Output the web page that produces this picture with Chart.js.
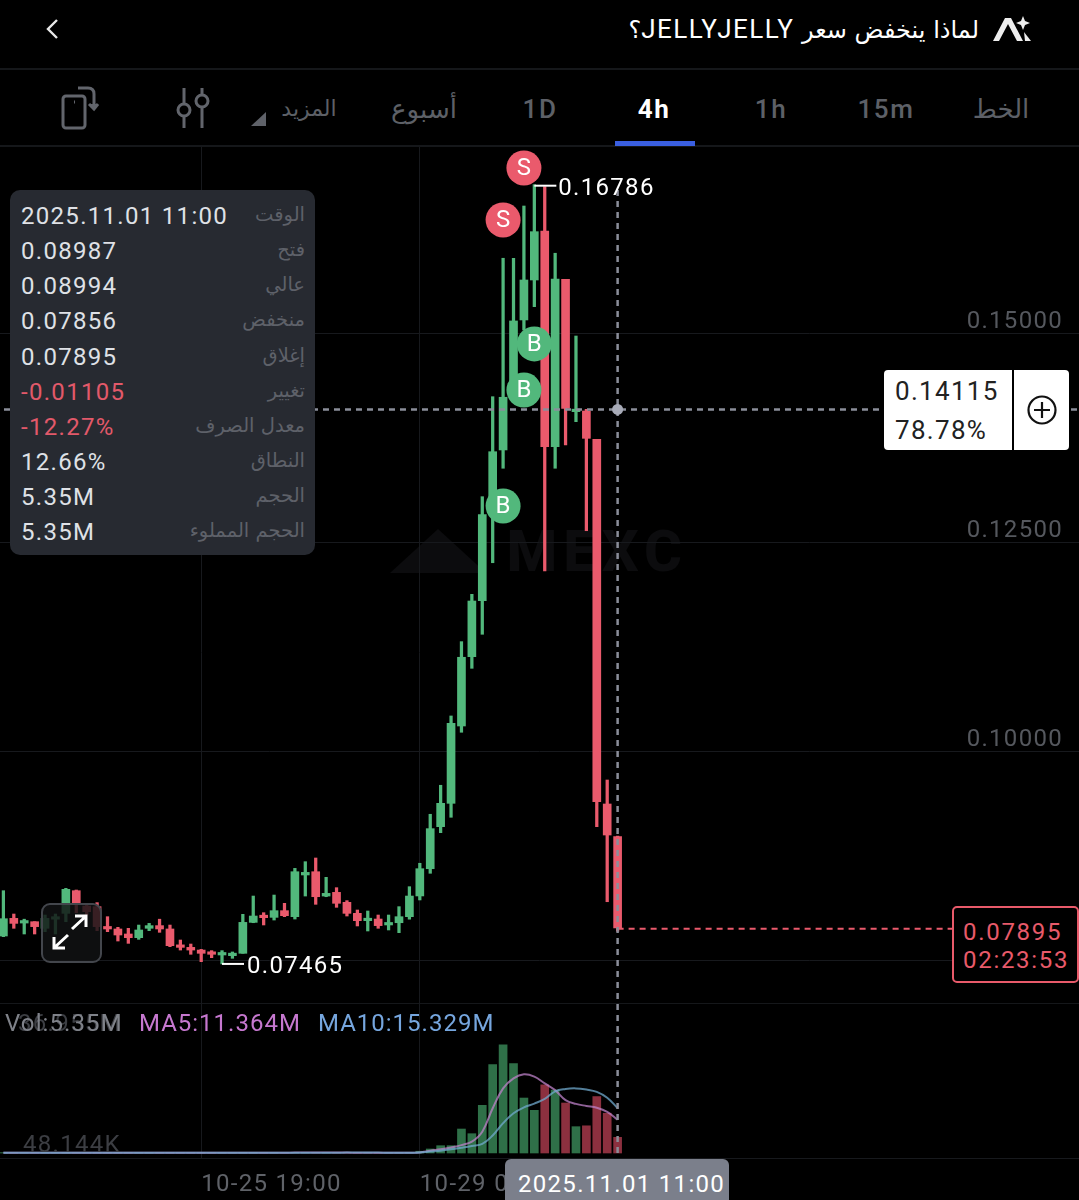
<!DOCTYPE html>
<html><head><meta charset="utf-8">
<style>
html,body{margin:0;padding:0;background:#000;width:1079px;height:1200px;overflow:hidden;font-family:Roboto,"DejaVu Sans",sans-serif;color:#fff;letter-spacing:1.3px}
.a{position:absolute;white-space:nowrap;line-height:1}
#c{position:absolute;left:0;top:0;z-index:2}
.tab{font-size:26px;color:#5d6067;transform:translateX(-50%);top:96px;font-weight:500;letter-spacing:1.6px}
.row{left:21px;font-size:24px;color:#dfe1e6}
.lab{right:774px;font-size:19.5px;color:#5e6169;font-family:"DejaVu Sans",sans-serif;letter-spacing:0}
</style></head><body>
<div class="a" style="left:0;top:68px;width:1079px;height:2px;background:#15171a"></div>
<div class="a" style="left:0;top:145px;width:1079px;height:2px;background:#15171a"></div>
<div class="a" style="left:0;top:1003px;width:1079px;height:1px;background:#15171a"></div>
<svg class="a" style="left:44px;top:17px" width="16" height="24" viewBox="0 0 16 24"><path d="M13 3 L4 12 L13 21" fill="none" stroke="#e8e8e8" stroke-width="2.4"/></svg>
<div class="a" dir="rtl" style="left:560px;width:419px;top:16px;font-size:24px;font-family:'DejaVu Sans',sans-serif;text-align:right;letter-spacing:0">لماذا ينخفض سعر <span style="font-family:Roboto;font-size:26px;letter-spacing:1.5px">JELLYJELLY</span>؟</div>
<svg class="a" style="left:992px;top:15px" width="44" height="28" viewBox="0 0 44 28"><path d="M1 26 L13 3 L19 3 L31 26 L25 26 L16 9 L7 26 Z" fill="#eee"/><path d="M31 1 L33 6 L38 8 L33 10 L31 15 L29 10 L24 8 L29 6 Z" fill="#eee"/><path d="M32 17 L39 26 L33 26 Z" fill="#eee"/></svg>
<div class="a tab" style="left:1001px;font-family:'DejaVu Sans';letter-spacing:0">الخط</div>
<div class="a tab" style="left:886px">15m</div>
<div class="a tab" style="left:771px">1h</div>
<div class="a tab" style="left:654px;color:#fff;font-weight:700">4h</div>
<div class="a tab" style="left:540px">1D</div>
<div class="a tab" style="left:424px;font-family:'DejaVu Sans';letter-spacing:0">أسبوع</div>
<div class="a tab" style="left:309px;font-family:'DejaVu Sans';letter-spacing:0;font-size:22px;top:98px">المزيد</div>
<svg class="a" style="left:250px;top:110px" width="18" height="18"><path d="M1 16 L16 16 L16 2 Z" fill="#5f6269"/></svg>
<svg class="a" style="left:174px;top:86px" width="38" height="44" viewBox="0 0 38 44" fill="none" stroke="#62656c" stroke-width="3"><path d="M10 2V18M10 30V42M28 2V8M28 22V42"/><circle cx="10" cy="24" r="6"/><circle cx="28" cy="15" r="6"/></svg>
<svg class="a" style="left:58px;top:84px" width="42" height="48" viewBox="0 0 42 48" fill="none" stroke="#62656c" stroke-width="3"><rect x="5" y="12" width="22" height="32" rx="3"/><path d="M16 18h1"/><path d="M20 4h10q6 0 6 6v12"/><path d="M31 20l5 5 4-5" fill="#62656c"/></svg>
<div class="a" style="left:615px;top:141px;width:80px;height:5px;background:#3a5fe0"></div>

<div class="a" style="left:390px;top:522px;font-size:58px;font-weight:800;color:#0c0c0e;letter-spacing:6px;width:320px;z-index:1">
<span style="display:inline-block;width:0;height:0;border-left:48px solid transparent;border-right:48px solid transparent;border-bottom:44px solid #0c0c0e;vertical-align:-2px"></span> MEXC</div>

<canvas id="c" width="1079" height="1200"></canvas>

<div class="a" style="left:10px;top:190px;width:305px;height:365px;background:#272a31;border-radius:10px;z-index:3"></div>
<div id="panel" style="z-index:4;position:absolute;left:0;top:0;width:1079px"></div>

<div class="a" style="left:41px;top:903px;width:57px;height:56px;border:2px solid #43464c;border-radius:9px;background:rgba(17,18,20,.82);z-index:4"></div>
<svg class="a" style="left:50px;top:912px;z-index:5" width="40" height="40" viewBox="0 0 40 40" fill="none" stroke="#fff" stroke-width="3"><path d="M22 17L35 5M25 4h11v11M18 23L5 35M15 36H4V25"/></svg>

<div class="a" style="left:884px;top:370px;width:185px;height:80px;background:#fff;border-radius:4px;z-index:4"></div>
<div class="a" style="left:1012px;top:370px;width:2px;height:80px;background:#000;z-index:5"></div>
<div class="a" style="left:895px;top:378px;font-size:26px;color:#222;z-index:5">0.14115</div>
<div class="a" style="left:895px;top:417px;font-size:26px;color:#222;z-index:5">78.78%</div>
<svg class="a" style="left:1026px;top:394px;z-index:5" width="32" height="32" viewBox="0 0 32 32" fill="none" stroke="#111" stroke-width="2.2"><circle cx="16" cy="16" r="13.5"/><path d="M16 8V24M8 16H24"/></svg>

<div class="a" style="left:952px;top:906px;width:123px;height:73px;border:2px solid #e85a6a;border-radius:5px;background:#000;z-index:4"></div>
<div class="a" style="left:963px;top:920px;font-size:24px;color:#e85a6a;letter-spacing:1.7px;z-index:5">0.07895</div>
<div class="a" style="left:963px;top:948px;font-size:24px;color:#e85a6a;letter-spacing:1.7px;z-index:5">02:23:53</div>

<div class="a" style="left:18px;top:1011px;font-size:24px;color:#3c3e43;z-index:3">36.955M</div>
<div class="a" style="left:5px;top:1011px;font-size:24px;color:#7f8289;letter-spacing:1.1px;z-index:3">Vol:5.35M</div>
<div class="a" style="left:139px;top:1011px;font-size:24px;color:#c678cf;letter-spacing:1px;z-index:3">MA5:11.364M</div>
<div class="a" style="left:318px;top:1011px;font-size:24px;color:#76a6de;letter-spacing:1px;z-index:3">MA10:15.329M</div>
<div class="a" style="left:23px;top:1132px;font-size:24px;color:#3c3e43;z-index:3">48.144K</div>

<div class="a" style="left:505px;top:1159px;width:224px;height:41px;background:#7b7f8b;border-radius:6px 6px 0 0;z-index:4"></div>
<div class="a" style="left:518px;top:1172px;font-size:24px;color:#fff;z-index:5">2025.11.01 11:00</div>

<script src="https://cdn.jsdelivr.net/npm/chart.js@4"></script>
<script>
const opens=[.07799,.08010,.07954,.07970,.07891,.08000,.08070,.08341,.08158,.08150,.07911,.07883,.07823,.07779,.07891,.07923,.07883,.07691,.07663,.07631,.07600,.07572,.07564,.07592,.07962,.08038,.08022,.08102,.08030,.08529,.08568,.08277,.08321,.08202,.08070,.07982,.08002,.07931,.07958,.08030,.08278,.08604,.09107,.09386,.10311,.11140,.11810,.12847,.13613,.14247,.15168,.15646,.16232,.13652,.15655,.14071,.14079,.13741,.09378,.08987];
const highs=[.08341,.08062,.08000,.07970,.08050,.08062,.08369,.08349,.08190,.08198,.08030,.07903,.07891,.07930,.07950,.08000,.07930,.07751,.07703,.07639,.07624,.07624,.07608,.08058,.08277,.08078,.08289,.08190,.08608,.08688,.08732,.08501,.08377,.08222,.08110,.08098,.08050,.08050,.08150,.08389,.08669,.09255,.09602,.10431,.11320,.11886,.13054,.14250,.15906,.15906,.16531,.16786,.16763,.15966,.15655,.14976,.14099,.13741,.09665,.08994];
const lows=[.07791,.07891,.07823,.07823,.07851,.07823,.07970,.08078,.08050,.07863,.07851,.07739,.07711,.07759,.07863,.07843,.07671,.07631,.07580,.07492,.07540,.07465,.07532,.07592,.07958,.07931,.07990,.08030,.08002,.08277,.08178,.08269,.08142,.08038,.07919,.07859,.07891,.07871,.07839,.08000,.08230,.08549,.09035,.09219,.10236,.11001,.11408,.12264,.13394,.14211,.15048,.15327,.12165,.13394,.13672,.13951,.12647,.09107,.08209,.07856];
const closes=[.08006,.07950,.07974,.07911,.08010,.08022,.08357,.08190,.08090,.07911,.07883,.07811,.07779,.07871,.07923,.07883,.07683,.07663,.07631,.07592,.07580,.07584,.07580,.07962,.08038,.08018,.08102,.08042,.08568,.08560,.08269,.08309,.08190,.08070,.07982,.08010,.07923,.07958,.08030,.08277,.08604,.09083,.09386,.10343,.11133,.11806,.12839,.13592,.14243,.15156,.15646,.16224,.13652,.15658,.14111,.14099,.13752,.09406,.09007,.07895];
const volumes=[.12,.1,.09,.1,.11,.1,.14,.13,.1,.12,.09,.1,.09,.08,.07,.09,.11,.08,.07,.09,.06,.05,.05,.15,.14,.09,.12,.1,.2,.16,.18,.12,.1,.1,.09,.08,.09,.07,.1,.16,.6,1.37,2.5,2.5,8.2,6.6,16.3,30.2,36.955,30.6,18.8,14.6,23.3,21.5,17.1,9.0,9.3,19.3,13.6,5.35];
const ma5=[.1,.1,.1,.1,.1,.1,.11,.11,.11,.12,.11,.11,.1,.1,.09,.09,.09,.09,.08,.09,.08,.07,.07,.08,.09,.1,.11,.12,.13,.14,.15,.15,.14,.13,.12,.1,.09,.09,.09,.1,.2,.8,1.25,1.9,2.7,3.9,7.3,15.3,22.1,25.5,26.9,26.1,23.8,21.5,18.1,16.8,16.1,15.5,14.1,11.364];
const ma10=[.1,.1,.1,.1,.1,.1,.1,.1,.11,.11,.11,.11,.11,.11,.1,.1,.1,.09,.09,.09,.09,.08,.08,.08,.09,.09,.09,.1,.1,.11,.12,.12,.12,.13,.13,.13,.13,.12,.11,.11,.15,.5,.8,1.25,1.8,2.4,3.1,6.0,10.2,13.6,15.6,16.9,18.5,21.1,21.9,22.1,21.7,20.9,18.9,15.329];
const sellMarks=[[50,.16986],[48,.16364]];
const buyMarks=[[51,.14881],[50,.1433],[48,.12943]];
const priceTicks=[.15,.125,.1,.075];
const priceTickLabels=['0.15000','0.12500','0.10000',''];
const timeTicks=[19,40];
const timeTickLabels=['10-25 19:00','10-29 07:00'];
const crossPrice=.14098, lastPrice=.07885, crossIndex=59, highIndex=51, lowIndex=21;
const panelLabels=['الوقت','فتح','عالي','منخفض','إغلاق','تغيير','معدل الصرف','النطاق','الحجم','الحجم المملوء'];
const panelValues=['2025.11.01 11:00','0.08987','0.08994','0.07856','0.07895','-0.01105','-12.27%','12.66%','5.35M','5.35M'];

let h='';panelLabels.forEach((l,i)=>{const y=204+i*35.15;
 const red=i==5||i==6;
 h+=`<div class="a row" style="top:${y}px;${red?'color:#e2596a':''}">${panelValues[i]}</div><div class="a lab" dir="rtl" style="top:${y+1}px">${l}</div>`;});
document.getElementById('panel').innerHTML=h;

const GREEN='#52b87c',RED='#ea5a6c',DG='#2f7048',DR='#8c303f',CROSS='#8b8e9a';
const idx=opens.map((_,i)=>i);
const up=i=>closes[i]>=opens[i];
const base={xAxisID:'x',yAxisID:'y',grouped:false,borderWidth:0};
const dash={type:'line',pointRadius:0,borderWidth:2.5,borderDash:[6,5],tension:0,clip:false,yAxisID:'y'};
const labelPlugin={id:'marks',
 beforeDraw(ch){ch.ctx.letterSpacing='1.3px'},
 afterDatasetsDraw(ch){
 const c=ch.ctx,x=ch.scales.x,y=ch.scales.y;
 c.save();c.textBaseline='middle';c.textAlign='center';c.fillStyle='#fff';c.font='24px Roboto';
 c.letterSpacing='0px';
 [...sellMarks.map(m=>[m,'S']),...buyMarks.map(m=>[m,'B'])].forEach(([m,t])=>c.fillText(t,x.getPixelForValue(m[0]),y.getPixelForValue(m[1])+1));
 c.letterSpacing='1.3px';
 c.textAlign='left';c.strokeStyle='#fff';c.lineWidth=2;
 const hx=x.getPixelForValue(highIndex),hy=y.getPixelForValue(highs[highIndex]);
 c.beginPath();c.moveTo(hx,hy+1);c.lineTo(hx+22,hy+1);c.stroke();
 c.fillText(highs[highIndex].toFixed(5),hx+24,hy+4);
 const lx=x.getPixelForValue(lowIndex),ly=y.getPixelForValue(lows[lowIndex]);
 c.beginPath();c.moveTo(lx,ly);c.lineTo(lx+22,ly);c.stroke();
 c.fillText(lows[lowIndex].toFixed(5),lx+25,ly+3);
 c.restore();
}};
new Chart(document.getElementById('c'),{
 data:{datasets:[
  {...dash,data:[{x:crossIndex,y:.16723},{x:crossIndex,y:.051435}],borderColor:CROSS,order:1},
  {...dash,data:[{x:-1,y:crossPrice},{x:104,y:crossPrice}],borderColor:CROSS,order:1},
  {...dash,data:[{x:crossIndex,y:lastPrice},{x:92,y:lastPrice}],borderColor:RED,borderWidth:2,order:1},
  {type:'scatter',yAxisID:'y',data:[{x:crossIndex,y:crossPrice}],pointRadius:5.5,backgroundColor:'#a8abb8',borderWidth:0,order:0},
  {type:'scatter',yAxisID:'y',data:sellMarks.map(m=>({x:m[0],y:m[1]})),pointRadius:17.5,backgroundColor:'#ea5a6c',borderWidth:0,order:0},
  {type:'scatter',yAxisID:'y',data:buyMarks.map(m=>({x:m[0],y:m[1]})),pointRadius:17.5,backgroundColor:'#52b87c',borderWidth:0,order:0},
  {type:'bar',...base,data:idx.map(i=>({x:i,y:[opens[i],closes[i]]})),backgroundColor:idx.map(i=>up(i)?GREEN:RED),barThickness:8,minBarLength:2.5,order:3},
  {type:'bar',...base,data:idx.map(i=>({x:i,y:[lows[i],highs[i]]})),backgroundColor:idx.map(i=>up(i)?GREEN:RED),barThickness:2.6,order:4},
  {type:'bar',...base,yAxisID:'v',data:idx.map(i=>({x:i,y:volumes[i]})),backgroundColor:idx.map(i=>up(i)?DG:DR),barThickness:8,order:6},
  {type:'line',yAxisID:'v',data:idx.map(i=>({x:i,y:ma10[i]})),borderColor:'rgba(112,170,205,.75)',borderWidth:2,pointRadius:0,tension:.4,order:5},
  {type:'line',yAxisID:'v',data:idx.map(i=>({x:i,y:ma5[i]})),borderColor:'rgba(190,130,200,.75)',borderWidth:2,pointRadius:0,tension:.4,order:5}
 ]},
 options:{responsive:false,animation:false,devicePixelRatio:1,
  layout:{autoPadding:false,padding:{top:147,left:0,right:0,bottom:0}},
  plugins:{legend:{display:false},tooltip:{enabled:false}},
  events:[],
  scales:{
   x:{type:'linear',offset:false,min:-.3266,max:103.32,position:'bottom',
    afterFit(s){s.height=42},
    afterBuildTicks(s){s.ticks=timeTicks.map(v=>({value:v}))},
    grid:{color:'#17191d',drawTicks:false,lineWidth:1,offset:false},border:{display:true,color:'#17191d'},
    ticks:{autoSkip:false,maxRotation:0,align:'start',padding:13,color:'#5f6268',font:{family:'Roboto',size:24},
     callback:v=>timeTickLabels[timeTicks.indexOf(v)]}},
   y:{type:'linear',position:'right',min:.051435,max:.172368,
    afterFit(s){s.width=0},
    afterBuildTicks(s){s.ticks=priceTicks.map(v=>({value:v}))},
    grid:{color:'#17191d',drawTicks:false},border:{display:false},
    ticks:{mirror:true,padding:-16,labelOffset:-12,color:'#55585e',font:{family:'Roboto',size:24},
     callback:v=>priceTickLabels[priceTicks.indexOf(v)]}},
   v:{type:'linear',display:false,min:-1.71,max:344.05}
  }},
 plugins:[labelPlugin]
});
</script>
</body></html>
